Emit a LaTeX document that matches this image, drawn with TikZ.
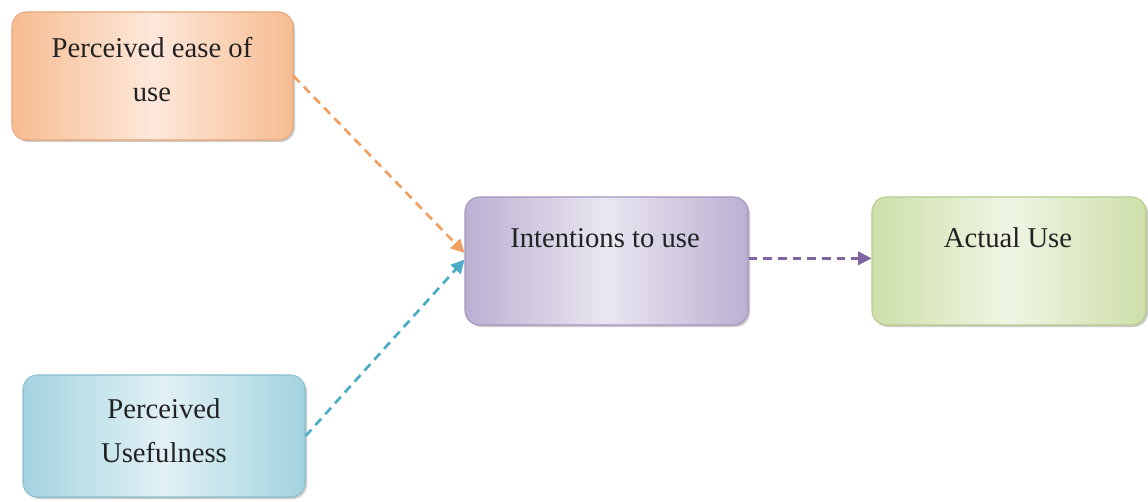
\documentclass[tikz,border=0pt]{standalone}
\usepackage{fontspec}
\setmainfont{Liberation Serif}
\usetikzlibrary{arrows.meta,shadows}
\definecolor{orEdge}{HTML}{F7BC92}
\definecolor{orMid}{HTML}{FDE8DA}
\definecolor{orLine}{HTML}{E9A575}
\definecolor{orArr}{HTML}{F0A060}
\definecolor{blEdge}{HTML}{A3D3DF}
\definecolor{blMid}{HTML}{E2F1F5}
\definecolor{blLine}{HTML}{86BFCE}
\definecolor{blArr}{HTML}{4BACC6}
\definecolor{puEdge}{HTML}{BBB0D2}
\definecolor{puMid}{HTML}{EAE6F1}
\definecolor{puLine}{HTML}{A496C0}
\definecolor{puArr}{HTML}{8064A2}
\definecolor{grEdge}{HTML}{CEDFAA}
\definecolor{grMid}{HTML}{EFF5E4}
\definecolor{grLine}{HTML}{B6CC8C}
\definecolor{txt}{HTML}{222222}
\tikzset{
  boxbase/.style={rounded corners=11pt, line width=0.8pt, inner sep=0pt,
    drop shadow={shadow xshift=1.5pt, shadow yshift=-1.5pt, opacity=0.35, fill=black!60}},
  orbox/.style={boxbase, draw=orLine, left color=orEdge, right color=orEdge, middle color=orMid},
  blbox/.style={boxbase, draw=blLine, left color=blEdge, right color=blEdge, middle color=blMid},
  pubox/.style={boxbase, draw=puLine, left color=puEdge, right color=puEdge, middle color=puMid},
  grbox/.style={boxbase, draw=grLine, left color=grEdge, right color=grEdge, middle color=grMid},
  lbl/.style={text=txt, align=center, font=\fontsize{21.5}{33}\selectfont, inner sep=0pt},
  conn/.style={dash pattern=on 6.5pt off 4.5pt, line width=2pt, -{Triangle[length=10pt,width=10pt]}}
}
\begin{document}
\begin{tikzpicture}[x=0.75pt,y=-0.75pt]
\useasboundingbox (0,0) rectangle (1148,502);
\node[orbox, minimum width=281*0.75pt, minimum height=128*0.75pt] (peou) at (152.5,76) {};
\node[blbox, minimum width=282*0.75pt, minimum height=122*0.75pt] (pu) at (164,436) {};
\node[pubox, minimum width=283*0.75pt, minimum height=128*0.75pt] (int) at (606.5,261) {};
\node[grbox, minimum width=274*0.75pt, minimum height=128*0.75pt] (act) at (1009,261) {};
\node[lbl] (peoutxt) at (152,70) {Perceived ease of\\use};
\node[lbl] (putxt) at (164,431) {Perceived\\Usefulness};
\node[lbl] (inttxt) at (605,238) {Intentions to use};
\node[lbl] (acttxt) at (1008,238) {Actual Use};
\draw[conn, orArr] (peou.east) -- ([yshift=6pt]int.west);
\draw[conn, blArr] (pu.east) -- ([yshift=1pt]int.west);
\draw[conn, puArr] ([yshift=2pt]int.east) -- ([yshift=2pt]act.west);
\end{tikzpicture}
\end{document}
